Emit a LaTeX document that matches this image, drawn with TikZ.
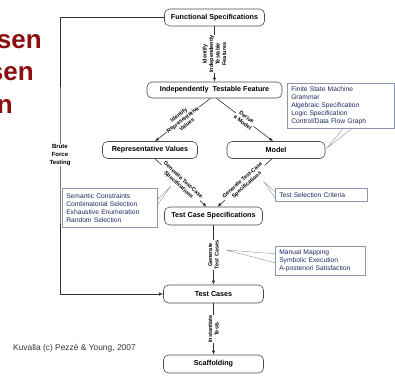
\documentclass[tikz,border=0pt]{standalone}
\usepackage{fontspec}
\setmainfont{Liberation Sans}
\usetikzlibrary{arrows.meta}
\definecolor{titlered}{RGB}{140,14,14}
\definecolor{notetext}{RGB}{30,40,95}
\definecolor{noteline}{RGB}{140,148,175}
\tikzstyle{stage}=[draw=black!70, line width=0.6pt, rounded corners=5pt, fill=white, minimum height=17pt, inner sep=0pt, font=\fontsize{7.2}{8}\selectfont\bfseries]
\tikzstyle{flow}=[draw=black!80, line width=0.6pt, -{Latex[length=4pt,width=3.2pt]}]
\tikzstyle{steplabel}=[fill=white, inner sep=0.6pt, align=center, font=\fontsize{5.5}{6.5}\selectfont\bfseries]
\tikzstyle{notebox}=[draw=noteline, line width=0.5pt, anchor=north west, inner xsep=4pt, inner ysep=0pt, align=left, text=notetext, font=\fontsize{6.7}{8}\selectfont]
\tikzstyle{pointer}=[draw=noteline, line width=0.4pt]
\tikzstyle{titlefrag}=[anchor=base east, inner sep=0pt, text=titlered, font=\fontsize{26}{30}\selectfont\bfseries]

\begin{document}
\begin{tikzpicture}[x=1pt, y=-1pt]
  \useasboundingbox (0,0) rectangle (395,380);

  % slide title, cut off at the left
  \node (tA) [titlefrag] at (42,48) {sen};
  \node (tB) [titlefrag] at (34,80) {sen};
  \node (tC) [titlefrag] at (13,113) {n};

  % process steps
  \node (fs) [stage, minimum width=100pt] at (214.5,17.5) {Functional Specifications};
  \node (itf) [stage, minimum width=135pt, minimum height=16pt] at (214.5,90) {Independently~~Testable Feature};
  \node (rv) [stage, minimum width=95pt] at (150,150) {Representative Values};
  \node (mdl) [stage, minimum width=98pt] at (276,150) {Model};
  \node (tcs) [stage, minimum width=98pt, minimum height=18pt] at (213.5,216) {Test Case Specifications};
  \node (tc) [stage, minimum width=100pt, minimum height=18pt] at (213.5,294) {Test Cases};
  \node (scf) [stage, minimum width=100pt, minimum height=18pt] at (213.5,364) {Scaffolding};

  % notes
  \coordinate (pm) at (327,148);
  \coordinate (ps) at (171,186);
  \coordinate (pc) at (264,182);
  \coordinate (pt) at (226,250);
  \node (nmodel) [notebox, text width=99pt, minimum height=45pt] at (287,83)
        {Finite State Machine\\Grammar\\Algebraic Specification\\Logic Specification\\Control/Data Flow Graph};
  \node (nsel) [notebox, text width=87pt, minimum height=39pt] at (62,188)
        {Semantic Constraints\\Combinatorial Selection\\Exhaustive Enumeration\\Random Selection};
  \node (ncrit) [notebox, text width=84pt, minimum height=13pt] at (275,188) {Test Selection Criteria};
  \node (nman) [notebox, text width=82pt, minimum height=29pt] at (275,246)
        {Manual Mapping\\Symbolic Execution\\A-posteriori Satisfaction};
  \draw [pointer] ([xshift=56pt]nmodel.south west) -- (pm) -- ([xshift=65pt]nmodel.south west);
  \draw [pointer] ([yshift=8pt]nsel.east) -- (ps) -- ([yshift=3pt]nsel.east);
  \draw [pointer] ([yshift=3pt]ncrit.west) -- (pc) -- ([yshift=-3pt]ncrit.west);
  \draw [pointer] ([yshift=7pt]nman.west) -- (pt) -- ([yshift=-2pt]nman.west);

  % steps
  \draw [flow] (fs) -- (itf)
        node [steplabel, midway, rotate=90] {Identify\\Independently\\Testable\\Features};
  \draw [flow] ([xshift=-4pt]itf.south) -- ([xshift=5pt]rv.north)
        node [steplabel, midway, sloped] {Identify\\Representative\\Values};
  \draw [flow] ([xshift=2pt]itf.south) -- ([xshift=-3pt]mdl.north)
        node [steplabel, midway, sloped] {Derive\\a Model};
  \draw [flow] ([xshift=5pt]rv.south) -- ([xshift=-7pt]tcs.north)
        node [steplabel, midway, sloped] {Generate Test-Case\\Specifications};
  \draw [flow] ([xshift=-4pt]mdl.south) -- ([xshift=4pt]tcs.north)
        node [steplabel, midway, sloped] {Generate Test-Case\\Specifications};
  \draw [flow] (tcs) -- (tc)
        node [steplabel, midway, rotate=90] {Generate\\Test Cases};
  \draw [flow] (tc) -- (scf)
        node [steplabel, midway, rotate=90] {Instantiate\\Tests};

  % brute force
  \coordinate (bf) at (60,155);
  \draw [flow] (fs.west) -| (bf) |- (tc.west);
  \node (bft) [steplabel, font=\fontsize{6}{8}\selectfont\bfseries] at (bf) {Brute\\Force\\Testing};

  \node (credit) [anchor=west, inner sep=0pt, text=black!80, font=\fontsize{8.4}{10}\selectfont] at (13,348)
        {Kuvalla (c) Pezzè \& Young, 2007};
\end{tikzpicture}
\end{document}
